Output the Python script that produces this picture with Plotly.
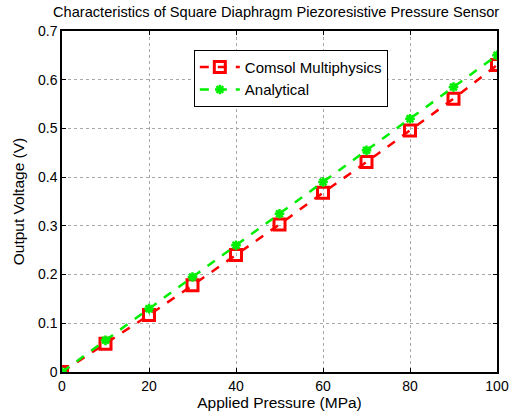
import plotly.graph_objects as go

pressure = [0, 10, 20, 30, 40, 50, 60, 70, 80, 90, 100]
comsol = [0, 0.058, 0.117, 0.178, 0.240, 0.303, 0.368, 0.431, 0.496, 0.561, 0.630]
analytical = [0, 0.065, 0.130, 0.195, 0.260, 0.325, 0.390, 0.455, 0.520, 0.585, 0.650]
x_ticks = [0, 20, 40, 60, 80, 100]
y_ticks = [0, 0.1, 0.2, 0.3, 0.4, 0.5, 0.6, 0.7]
y_labels = ["0", "0.1", "0.2", "0.3", "0.4", "0.5", "0.6", "0.7"]

FONT = "Liberation Sans, Arial"

fig = go.Figure()
fig.add_trace(go.Scatter(
    x=pressure, y=comsol, name="Comsol Multiphysics", mode="lines+markers",
    line=dict(color="#ff0000", width=2.5, dash="dash"),
    marker=dict(symbol="square-open", size=11, color="#ff0000", line=dict(width=3, color="#ff0000")),
))
fig.add_trace(go.Scatter(
    x=pressure, y=analytical, name="Analytical", mode="lines+markers",
    line=dict(color="#00ee00", width=2.5, dash="dash"),
    marker=dict(symbol="asterisk-open", size=8, color="#00ee00", line=dict(width=2.5, color="#00ee00")),
))

axis_common = dict(
    showgrid=True, gridcolor="#a8a8a8", griddash="dot", gridwidth=1,
    showline=True, linecolor="black", linewidth=1.5, mirror="ticks",
    ticks="inside", ticklen=4, tickcolor="black", zeroline=False,
    tickfont=dict(family=FONT, size=14, color="black"),
    automargin=False,
)
fig.update_xaxes(range=[0, 100], tickvals=x_ticks, ticktext=[str(v) for v in x_ticks],
                 title=dict(text="Applied Pressure (MPa)", font=dict(family=FONT, size=15.5, color="black"), standoff=5),
                 **axis_common)
fig.update_yaxes(range=[0, 0.7], tickvals=y_ticks, ticktext=y_labels,
                 title=dict(text="Output Voltage (V)", font=dict(family=FONT, size=15.5, color="black"), standoff=10),
                 **axis_common)

fig.update_layout(
    width=523, height=419,
    margin=dict(l=62, r=26, t=31, b=47),
    paper_bgcolor="white", plot_bgcolor="white",
    title=dict(text="Characteristics of Square Diaphragm Piezoresistive Pressure Sensor",
               font=dict(family=FONT, size=14.6, color="black"),
               xref="container", x=0.528, xanchor="center", y=0.983, yanchor="top"),
    legend=dict(x=0.303, y=0.945, xanchor="left", yanchor="top",
                bgcolor="white", bordercolor="black", borderwidth=1,
                font=dict(family=FONT, size=15, color="black"),
                tracegroupgap=0, itemwidth=40),
    showlegend=True,
)

fig.write_html("out.html")
